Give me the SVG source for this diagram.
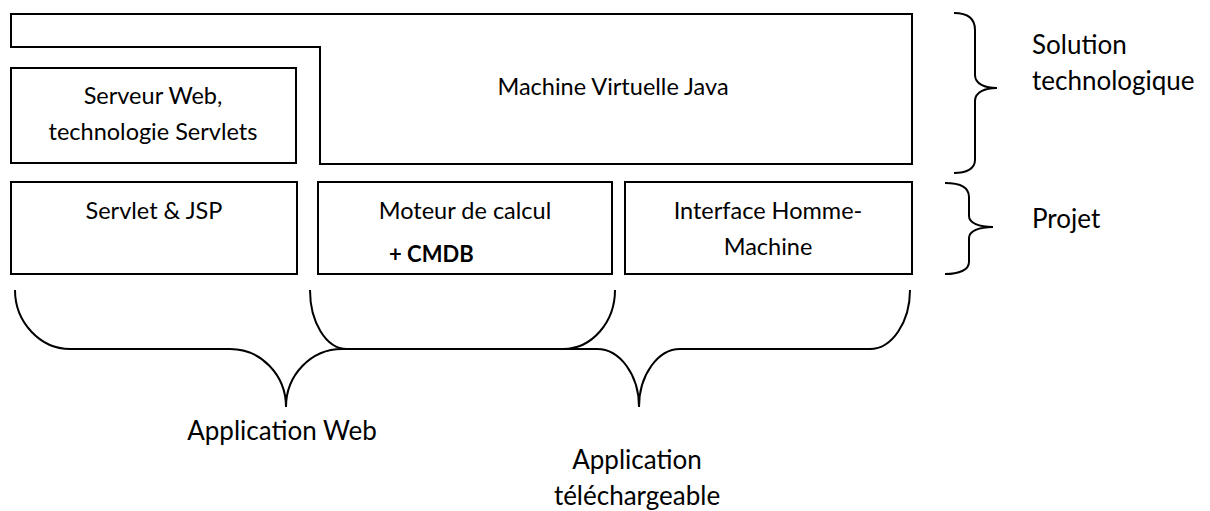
<svg xmlns="http://www.w3.org/2000/svg" width="1210" height="511" viewBox="0 0 1210 511">
<style>
.box{fill:#fff;stroke:#000;stroke-width:2}
.br{fill:none;stroke:#000;stroke-width:2}
text{font-family:Lato,"Open Sans","Liberation Sans",sans-serif;font-size:23.5px;fill:#000}
.c{text-anchor:middle}
.b{font-weight:bold;font-size:22px}
.l{font-size:26px}
</style>
<rect width="1210" height="511" fill="#fff"/>
<g id="jvm">
<path class="box" d="M11,14 L912,14 L912,164 L320,164 L320,47 L11,47 Z"/>
<text class="c" x="613" y="95">Machine Virtuelle Java</text>
</g>
<g id="serveur">
<rect class="box" x="11" y="68" width="285" height="95"/>
<text class="c" x="153" y="104">Serveur Web,</text>
<text class="c" x="153" y="140">technologie Servlets</text>
</g>
<g id="servlet">
<rect class="box" x="11" y="182" width="286" height="92"/>
<text class="c" x="154" y="219">Servlet &amp; JSP</text>
</g>
<g id="moteur">
<rect class="box" x="318" y="182" width="294" height="92"/>
<text class="c" x="465" y="219">Moteur de calcul</text>
<text class="b" x="389" y="262">+ CMDB</text>
</g>
<g id="ihm">
<rect class="box" x="625" y="182" width="287" height="92"/>
<text class="c" x="768" y="219">Interface Homme-</text>
<text class="c" x="768" y="255">Machine</text>
</g>
<g id="connectors">
<path class="br" d="M954,13 C966,13 975,17 975,30 L975,75 C975,84 985,88 997,88 C985,88 975,92 975,101 L975,160 C975,169 966,173 954,173"/>
<path class="br" d="M945,183 C959,183 969,187 969,197 L969,216 C969,223 979,227 993,227 C979,227 969,231 969,238 L969,262 C969,270 959,274 945,274"/>
<path class="br" d="M15,290 C15,322 40,349 70,349 L230,349 C261,349 286,375 286,407 C286,375 311,349 342,349 L563,349 C592,349 615,322 615,290"/>
<path class="br" d="M310,290 C310,322 326,349 347,349 L597,349 C620,349 639,375 639,407 C639,375 658,349 680,349 L870,349 C892,349 910,322 910,290"/>
</g>
<g id="labels">
<text class="l" x="1032" y="54">Solution</text>
<text class="l" x="1032" y="90">technologique</text>
<text class="l" x="1032" y="228">Projet</text>
<text class="c l" x="282" y="440">Application Web</text>
<text class="c l" x="637" y="469">Application</text>
<text class="c l" x="637" y="505">téléchargeable</text>
</g>
</svg>
